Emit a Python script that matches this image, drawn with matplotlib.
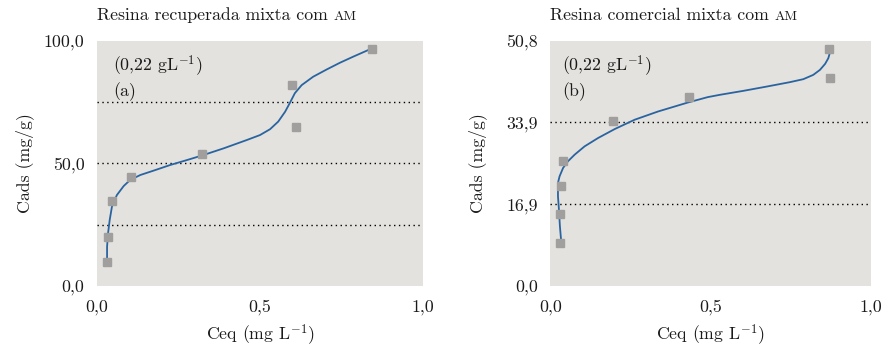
import numpy as np
import matplotlib
matplotlib.use("Agg")
import matplotlib.pyplot as plt
from matplotlib.transforms import offset_copy

plt.rcParams['font.family'] = ['cmr10', 'DejaVu Serif']
plt.rcParams['mathtext.fontset'] = 'cm'
plt.rcParams['axes.formatter.use_mathtext'] = True

# (a) Resina recuperada - measured points
ceq_a = [0.030, 0.035, 0.046, 0.105, 0.323, 0.599, 0.611, 0.845]
cads_a = [9.7, 20.0, 34.6, 44.4, 53.7, 81.9, 64.8, 96.6]
# (a) fitted curve
fit_x_a = [0.031, 0.031, 0.034, 0.039, 0.046, 0.061, 0.082, 0.102, 0.133, 0.174,
           0.225, 0.276, 0.323, 0.389, 0.460, 0.500, 0.531, 0.556, 0.577, 0.592,
           0.607, 0.628, 0.663, 0.705, 0.745, 0.786, 0.832]
fit_y_a = [9.9, 16.0, 21.5, 26.9, 32.4, 37.1, 40.8, 43.3, 45.3, 47.1,
           49.4, 51.4, 53.3, 56.2, 59.6, 61.6, 64.0, 67.1, 71.1, 74.8,
           78.7, 82.0, 85.4, 88.4, 91.1, 93.6, 96.3]

# (b) Resina comercial - measured points
ceq_b = [0.031, 0.030, 0.032, 0.040, 0.195, 0.432, 0.870, 0.873]
cads_b = [8.97, 14.9, 20.8, 26.0, 34.3, 39.2, 49.1, 43.1]
fit_x_b = [0.034, 0.030, 0.027, 0.024, 0.024, 0.029, 0.040, 0.055, 0.076, 0.107,
           0.149, 0.201, 0.263, 0.336, 0.429, 0.491, 0.529, 0.602, 0.675, 0.747,
           0.789, 0.820, 0.841, 0.857, 0.867, 0.872]
fit_y_b = [9.30, 12.41, 15.86, 18.61, 21.38, 22.74, 24.48, 25.85, 27.23, 28.95,
           30.68, 32.54, 34.47, 36.18, 38.04, 39.16, 39.64, 40.46, 41.35, 42.26,
           42.88, 43.77, 44.81, 46.05, 47.22, 48.38]

xticks = [0.0, 0.5, 1.0]
xtick_labels = ['0,0', '0,5', '1,0']
yticks_a = [0.0, 50.0, 100.0]
ytick_labels_a = ['0,0', '50,0', '100,0']
grid_a = [25.0, 50.0, 75.0]
yticks_b = [0.0, 16.9, 33.9, 50.8]
ytick_labels_b = ['0,0', '16,9', '33,9', '50,8']
grid_b = [16.9, 33.9]

bg = '#e3e2de'
line_col = '#2a64a0'
mark_col = '#a09f9d'
txt_col = '#1a1a1a'
fs = 12.8

fig = plt.figure(figsize=(8.92, 3.57), dpi=100)
ax1 = fig.add_axes([0.1087, 0.1989, 0.3655, 0.6863])
ax2 = fig.add_axes([0.6169, 0.1989, 0.3595, 0.6863])

panels = [
    (ax1, ceq_a, cads_a, fit_x_a, fit_y_a, 100.0, yticks_a, ytick_labels_a, grid_a,
     'Resina recuperada mixta com ', '(a)', 0.05, 7),
    (ax2, ceq_b, cads_b, fit_x_b, fit_y_b, 50.8, yticks_b, ytick_labels_b, grid_b,
     'Resina comercial mixta com ', '(b)', 0.036, 14),
]

for ax, px, py, fx, fy, ymax, yt, ytl, gr, title, tag, tx, ylpad in panels:
    ax.set_facecolor(bg)
    for s in ax.spines.values():
        s.set_visible(False)
    for g in gr:
        ax.axhline(g, color='black', lw=1.0, ls=(0, (1, 2.5)), zorder=1)
    ax.plot(fx, fy, color=line_col, lw=1.3, zorder=2)
    ax.plot(px, py, ls='none', marker='s', ms=6, color=mark_col, zorder=3)
    ax.set_xlim(0, 1.0)
    ax.set_ylim(0, ymax)
    ax.set_xticks(xticks)
    ax.set_xticklabels(xtick_labels)
    ax.set_yticks(yt)
    ax.set_yticklabels(ytl)
    ax.tick_params(length=0, labelsize=fs, colors=txt_col, pad=9)
    ax.tick_params(axis='x', pad=10)
    ax.set_xlabel(r'Ceq (mg L$^{\mathrm{-1}}$)', fontsize=fs, color=txt_col, labelpad=5)
    ax.set_ylabel('Cads (mg/g)', fontsize=fs, color=txt_col, labelpad=ylpad)
    ax.text(tx, 0.898, r'(0,22 gL$^{\mathrm{-1}}$)', transform=ax.transAxes,
            fontsize=fs, color=txt_col, va='center', ha='left')
    ax.text(tx, 0.792, tag, transform=ax.transAxes,
            fontsize=fs, color=txt_col, va='center', ha='left')
    t = ax.text(0.0, 1.085, title, transform=ax.transAxes, fontsize=fs,
                color=txt_col, va='baseline', ha='left')
    fig.canvas.draw()
    w = t.get_window_extent().width
    ax.text(0.0, 1.085, 'AM', fontsize=fs * 0.78, color=txt_col, va='baseline',
            ha='left', transform=offset_copy(ax.transAxes, fig=fig, x=w, y=0, units='dots'))

fig.savefig('out.png', dpi=100)
